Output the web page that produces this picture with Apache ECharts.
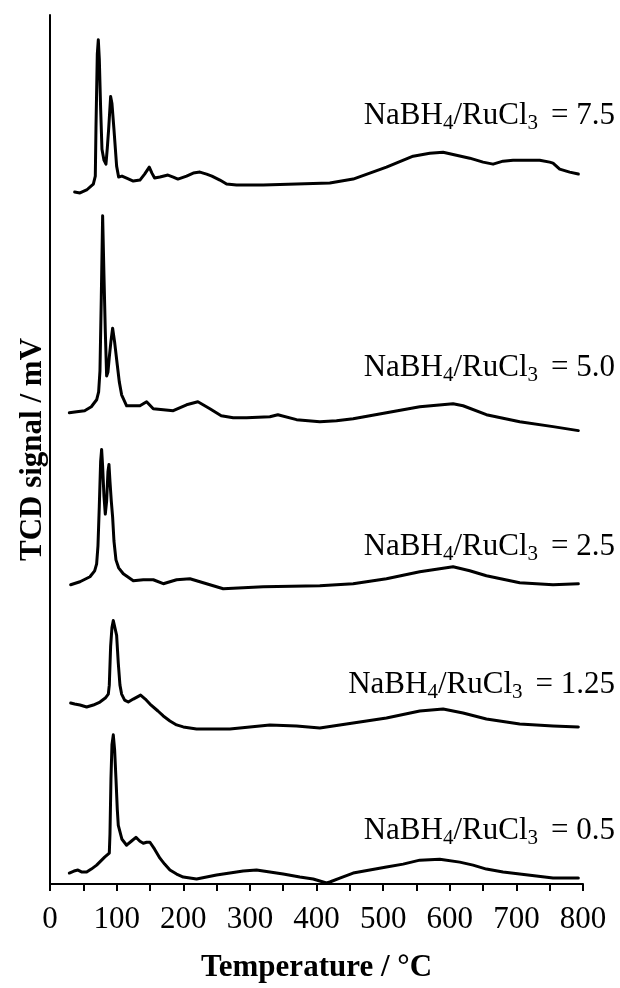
<!DOCTYPE html>
<html>
<head>
<meta charset="utf-8">
<script src="https://cdn.jsdelivr.net/npm/echarts@6/dist/echarts.min.js"></script>
<style>
html,body{margin:0;padding:0;background:#fff;}
#chart{width:620px;height:988px;}
</style>
</head>
<body>
<div id="chart"></div>
<script>
// Temperature (°C) and stacked TCD signal (arbitrary offset units)
const ratio75 = [[37,696],[45,695],[55,698],[65,704],[68,712],[69,760],[71,835],[72.5,849],[74,830],[76,780],[78,739],[81,728],[84,724],[86,740],[88,759],[91,792],[93,785],[96,759],[100,722],[103,711],[108,712],[115,710],[125,707],[135,708],[142,714],[149,721],[153,715],[157,710],[165,711],[177,713],[185,711],[192,709],[205,712],[215,715],[225,716],[235,714],[243,712],[255,708],[265,704],[280,703],[320,703],[370,704],[420,705],[455,709],[505,721],[545,732],[570,735],[590,736],[610,733],[630,730],[650,726],[665,724],[680,727],[695,728],[715,728],[735,728],[750,726],[755,725],[765,719],[780,716],[793,714]];
const ratio50 = [[29,474],[40,475],[52,476],[62,480],[70,487],[73,495],[75,516],[77,590],[79,672],[81,612],[83,556],[85,511],[87,515],[89,530],[91.5,546],[94,559],[97,545],[101,522],[104,505],[107.5,492],[115,481],[125,481],[135,481],[145,485],[155,478],[170,477],[185,476],[205,482],[222,485],[240,478],[257,471],[275,469],[295,469],[330,470],[342,472],[370,467],[405,465],[430,466],[455,468],[505,474],[555,480],[605,483],[620,481],[655,472],[705,465],[755,460],[793,456]];
const ratio25 = [[31,301],[45,304],[60,309],[67,315],[70,322],[72,340],[74,380],[76,425],[77.5,437],[79,420],[81,390],[83,372],[84,371],[85,385],[87,415],[88.5,422],[90,405],[92,385],[94,369],[96,345],[99,326],[103,318],[110,312],[125,305],[140,306],[155,306],[170,302],[190,306],[210,307],[235,302],[260,297],[320,299],[405,300],[455,302],[505,307],[555,314],[605,319],[630,315],[655,310],[705,303],[755,301],[793,302]];
const ratio125 = [[31,182],[37,181],[45,180],[55,178],[65,180],[75,183],[83,187],[87.5,191],[89,200],[91,239],[93,258],[95,265],[97.5,266],[100,250],[102.5,222],[105,200],[107.5,191],[112,185],[117.5,183],[125,186],[136,190],[143,186],[150,181],[162,174],[170,169],[180,164],[190,160],[200,158],[220,156],[270,156],[330,160],[370,159],[405,157],[455,162],[505,167],[555,174],[590,176],[620,172],[655,166],[705,161],[755,159],[793,158]];
const ratio05 = [[29,11],[36,13],[42,14],[48,12],[55,12],[62,15],[70,19],[76,23],[82,27],[89,31],[90,50],[91.5,106],[93,140],[95,150],[97,135],[99,106],[101,75],[102.5,59],[108,45],[115,39],[122,43],[129,47],[135,43],[140,41],[145,42],[150,42],[157,35],[165,26],[172,20],[180,14],[190,10],[200,7],[220,5],[235,7],[250,9],[270,11],[290,13],[310,14],[330,12],[350,10],[375,7],[395,5],[410,2],[415,1],[420,2],[435,6],[455,11],[480,14],[505,17],[530,20],[555,24],[585,25],[615,22],[635,19],[655,15],[680,12],[705,10],[730,8],[755,6],[775,6],[793,6]];
const seriesData = [ratio75, ratio50, ratio25, ratio125, ratio05];
const ratioLabels = ['7.5', '5.0', '2.5', '1.25', '0.5'];
const xTicks = [0, 100, 200, 300, 400, 500, 600, 700, 800];

const FONT = '"Liberation Serif", "Times New Roman", serif';
const labelY = [115.5, 367.5, 546.5, 684.5, 830.5];

const chart = echarts.init(document.getElementById('chart'), null, {renderer: 'canvas'});
const option = {
  animation: false,
  backgroundColor: '#fff',
  grid: {left: 50, right: 37, top: 15, bottom: 99, containLabel: false},
  xAxis: {
    type: 'value', min: xTicks[0], max: xTicks[xTicks.length - 1], interval: 100,
    name: 'Temperature / °C', nameLocation: 'middle', nameGap: 68,
    nameTextStyle: {fontFamily: FONT, fontSize: 31, fontWeight: 'bold', color: '#000', lineHeight: 31},
    axisLine: {show: true, lineStyle: {color: '#000', width: 2}},
    axisTick: {show: true, length: 7, lineStyle: {color: '#000', width: 2}},
    minorTick: {show: true, splitNumber: 2, length: 7, lineStyle: {color: '#000', width: 2}},
    splitLine: {show: false},
    minorSplitLine: {show: false},
    axisLabel: {fontFamily: FONT, fontSize: 31, color: '#000', margin: 20}
  },
  yAxis: {
    type: 'value', min: 0, max: 874,
    name: 'TCD signal / mV', nameLocation: 'middle', nameGap: 2,
    nameTextStyle: {fontFamily: FONT, fontSize: 31, fontWeight: 'bold', color: '#000', lineHeight: 31},
    axisLine: {show: true, onZero: false, lineStyle: {color: '#000', width: 2}},
    axisTick: {show: false},
    axisLabel: {show: false},
    splitLine: {show: false}
  },
  series: seriesData.map((d, i) => ({
    name: 'NaBH4/RuCl3 = ' + ratioLabels[i],
    type: 'line', data: d, showSymbol: false, symbol: 'none',
    lineStyle: {color: '#000', width: 3, join: 'round', cap: 'round'}, z: 3
  })),
  graphic: ratioLabels.map((r, i) => ({
    type: 'text', x: 615, y: labelY[i], z: 10,
    style: {
      text: '{m|NaBH}{s|4}{m|/RuCl}{s|3 }{m| = ' + r + '}',
      align: 'right', verticalAlign: 'middle',
      rich: {
        m: {fontFamily: FONT, fontSize: 31, lineHeight: 38, fill: '#000', color: '#000'},
        s: {fontFamily: FONT, fontSize: 21, lineHeight: 21, padding: [16, 0, 0, 0], fill: '#000', color: '#000'}
      }
    }
  }))
};
chart.setOption(option);
</script>
</body>
</html>
